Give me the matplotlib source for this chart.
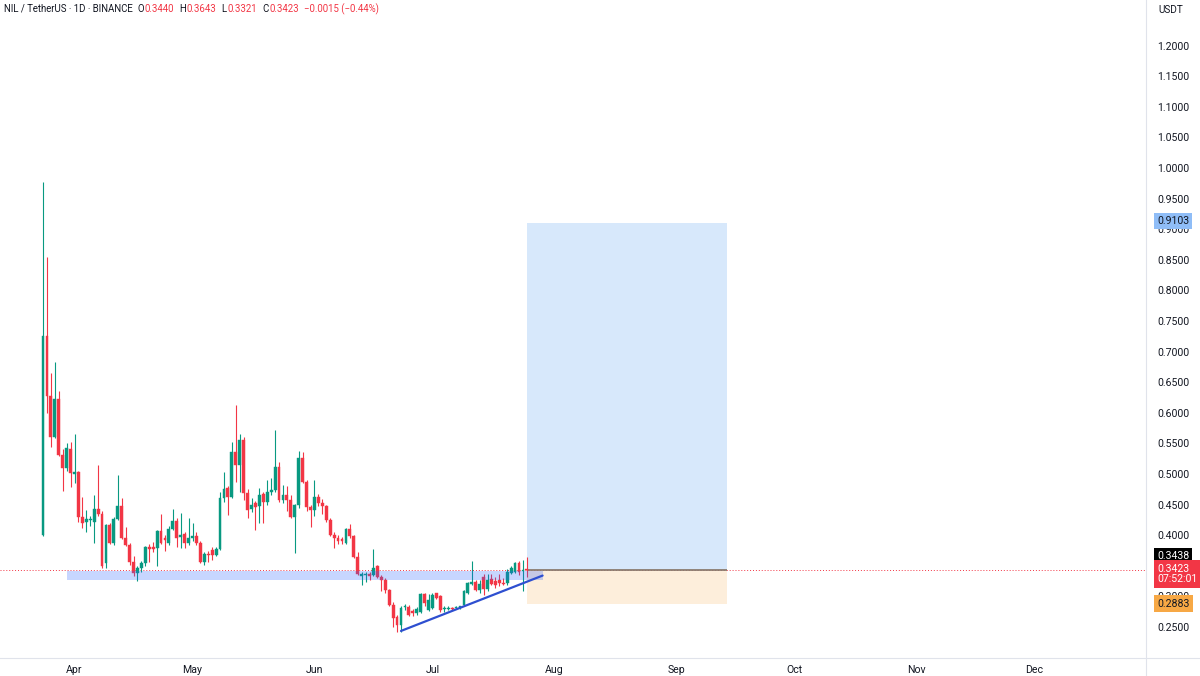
import matplotlib
matplotlib.use('Agg')
import matplotlib.pyplot as plt
import matplotlib.dates as mdates
import matplotlib.transforms as mtransforms
from matplotlib.lines import Line2D
from matplotlib.patches import Rectangle
from matplotlib.text import Annotation
import numpy as np
import pandas as pd

plt.rcParams['font.family'] = ['Roboto', 'DejaVu Sans']

# NIL / USDT daily candles, first bar on 2025-03-24
start_date = '2025-03-24'
opens = [0.400, 0.7255, 0.627, 0.561, 0.623, 0.531, 0.510, 0.541, 0.500, 0.503,
         0.429, 0.421, 0.424, 0.422, 0.442, 0.435, 0.355, 0.417, 0.387, 0.426,
         0.448, 0.395, 0.384, 0.356, 0.338, 0.346, 0.355, 0.381, 0.380, 0.379,
         0.407, 0.395, 0.388, 0.410, 0.423, 0.397, 0.402, 0.387, 0.395, 0.398,
         0.387, 0.356, 0.369, 0.375, 0.368, 0.377, 0.461, 0.477, 0.463, 0.536,
         0.515, 0.556, 0.469, 0.443, 0.452, 0.447, 0.467, 0.455, 0.471, 0.474,
         0.512, 0.457, 0.466, 0.458, 0.430, 0.449, 0.526, 0.487, 0.446, 0.441,
         0.463, 0.452, 0.447, 0.425, 0.400, 0.395, 0.393, 0.387, 0.410, 0.398,
         0.365, 0.334, 0.335, 0.337, 0.335, 0.350, 0.332, 0.327, 0.310, 0.286,
         0.267, 0.253, 0.283, 0.283, 0.276, 0.273, 0.275, 0.304, 0.278, 0.281,
         0.305, 0.301, 0.279, 0.279, 0.280, 0.281, 0.282, 0.286, 0.306, 0.321,
         0.324, 0.310, 0.332, 0.312, 0.328, 0.325, 0.327, 0.322, 0.322, 0.339,
         0.340, 0.354, 0.342, 0.3440]
highs = [0.977, 0.855, 0.665, 0.683, 0.636, 0.540, 0.551, 0.553, 0.565, 0.505,
         0.463, 0.441, 0.432, 0.466, 0.515, 0.440, 0.418, 0.420, 0.430, 0.498,
         0.461, 0.414, 0.388, 0.366, 0.350, 0.358, 0.383, 0.385, 0.389, 0.408,
         0.435, 0.400, 0.415, 0.443, 0.428, 0.436, 0.405, 0.428, 0.420, 0.405,
         0.391, 0.372, 0.374, 0.380, 0.380, 0.471, 0.504, 0.480, 0.553, 0.613,
         0.566, 0.560, 0.475, 0.460, 0.456, 0.477, 0.470, 0.490, 0.493, 0.572,
         0.520, 0.482, 0.480, 0.466, 0.451, 0.537, 0.536, 0.490, 0.450, 0.490,
         0.468, 0.459, 0.450, 0.428, 0.405, 0.400, 0.397, 0.412, 0.418, 0.400,
         0.372, 0.340, 0.340, 0.340, 0.377, 0.352, 0.335, 0.330, 0.312, 0.290,
         0.270, 0.285, 0.287, 0.286, 0.280, 0.282, 0.305, 0.306, 0.304, 0.306,
         0.306, 0.303, 0.284, 0.285, 0.283, 0.284, 0.285, 0.310, 0.324, 0.358,
         0.326, 0.327, 0.336, 0.336, 0.337, 0.331, 0.337, 0.330, 0.344, 0.350,
         0.356, 0.358, 0.359, 0.3643]
lows = [0.398, 0.600, 0.544, 0.558, 0.530, 0.473, 0.505, 0.479, 0.485, 0.422,
        0.412, 0.406, 0.415, 0.387, 0.432, 0.346, 0.347, 0.385, 0.384, 0.424,
        0.393, 0.382, 0.352, 0.334, 0.325, 0.340, 0.350, 0.356, 0.372, 0.349,
        0.386, 0.374, 0.384, 0.408, 0.381, 0.379, 0.379, 0.384, 0.390, 0.384,
        0.354, 0.352, 0.356, 0.360, 0.366, 0.375, 0.455, 0.433, 0.460, 0.487,
        0.471, 0.457, 0.428, 0.438, 0.408, 0.420, 0.420, 0.450, 0.465, 0.470,
        0.455, 0.452, 0.440, 0.428, 0.371, 0.445, 0.485, 0.440, 0.414, 0.432,
        0.447, 0.435, 0.422, 0.398, 0.379, 0.385, 0.386, 0.385, 0.395, 0.363,
        0.335, 0.319, 0.324, 0.327, 0.333, 0.330, 0.308, 0.305, 0.285, 0.250,
        0.242, 0.242, 0.278, 0.268, 0.268, 0.270, 0.273, 0.285, 0.276, 0.279,
        0.296, 0.275, 0.275, 0.277, 0.277, 0.279, 0.280, 0.284, 0.304, 0.318,
        0.308, 0.306, 0.302, 0.308, 0.318, 0.314, 0.317, 0.318, 0.318, 0.336,
        0.338, 0.335, 0.308, 0.3321]
closes = [0.7255, 0.627, 0.561, 0.623, 0.531, 0.510, 0.542, 0.502, 0.503, 0.429,
          0.420, 0.426, 0.427, 0.442, 0.435, 0.349, 0.417, 0.387, 0.426, 0.448,
          0.395, 0.384, 0.356, 0.338, 0.346, 0.355, 0.381, 0.378, 0.377, 0.407,
          0.388, 0.392, 0.410, 0.423, 0.395, 0.400, 0.387, 0.396, 0.398, 0.387,
          0.356, 0.369, 0.367, 0.368, 0.377, 0.461, 0.475, 0.462, 0.536, 0.515,
          0.556, 0.469, 0.441, 0.450, 0.446, 0.466, 0.455, 0.471, 0.474, 0.512,
          0.457, 0.466, 0.458, 0.430, 0.449, 0.526, 0.487, 0.446, 0.441, 0.463,
          0.452, 0.448, 0.425, 0.400, 0.395, 0.391, 0.390, 0.410, 0.398, 0.365,
          0.336, 0.337, 0.337, 0.333, 0.346, 0.332, 0.327, 0.310, 0.286, 0.264,
          0.253, 0.281, 0.285, 0.270, 0.273, 0.279, 0.304, 0.289, 0.294, 0.302,
          0.297, 0.277, 0.281, 0.281, 0.279, 0.282, 0.283, 0.308, 0.322, 0.323,
          0.310, 0.320, 0.312, 0.326, 0.321, 0.319, 0.322, 0.320, 0.340, 0.346,
          0.354, 0.340, 0.3438, 0.3423]

# drawings
zone_dates = ['2025-03-30', '2025-07-29']
zone_prices = [0.327, 0.341]
trend_dates = ['2025-06-23', '2025-07-29']
trend_prices = [0.2435, 0.334]
position_dates = ['2025-07-25', '2025-09-14']
entry_price = 0.3438
target_price = 0.9103
stop_price = 0.2883
countdown = '07:52:01'
# 0.35 sits fully under the price badges, so it is not listed
price_ticks = [0.25, 0.30, 0.40, 0.45, 0.50, 0.55, 0.60, 0.65, 0.70, 0.75, 0.80,
               0.85, 0.90, 0.95, 1.00, 1.05, 1.10, 1.15, 1.20]

UP = '#089981'
DOWN = '#f23645'
TEXT = '#131722'
GRID = '#e0e3eb'
FS = 7.6
HFS = 6.9

W, H = 1200, 676
fig = plt.figure(figsize=(12, 6.76), dpi=100)
ax = fig.add_axes([0, 18 / H, 1146 / W, 658 / H])

dates = mdates.date2num(pd.date_range(start_date, periods=len(opens), freq='D'))
o, h, l, c = map(np.array, (opens, highs, lows, closes))
cols = np.where(c >= o, UP, DOWN)

ax.vlines(dates, l, h, colors=cols, linewidth=0.8, zorder=3)
ax.bar(dates, np.maximum(np.abs(c - o), 0.0016), bottom=np.minimum(o, c),
       width=0.72, color=cols, edgecolor=cols, linewidth=0.3, zorder=3)

# long position tool
px0, px1 = mdates.date2num(pd.to_datetime(position_dates))
ax.add_patch(Rectangle((px0, entry_price), px1 - px0, target_price - entry_price,
                       facecolor='#d7e8fb', edgecolor='none', zorder=1))
ax.add_patch(Rectangle((px0, stop_price), px1 - px0, entry_price - stop_price,
                       facecolor='#fdeedb', edgecolor='none', zorder=1))
ax.hlines(entry_price, px0, px1, color='#8a7c70', linewidth=1.3, zorder=2)

# support zone and rising trendline
zx0, zx1 = mdates.date2num(pd.to_datetime(zone_dates))
ax.add_patch(Rectangle((zx0, zone_prices[0]), zx1 - zx0, zone_prices[1] - zone_prices[0],
                       facecolor='#2962ff', alpha=0.26, edgecolor='none', zorder=4))
ax.plot(mdates.date2num(pd.to_datetime(trend_dates)), trend_prices,
        color='#2e4fd0', linewidth=1.6, solid_capstyle='round', zorder=5)

# last price line
ax.axhline(closes[-1], color=DOWN, linewidth=0.7, linestyle=(0, (1, 2)), zorder=1.5)

ax.set_xlim(dates[0] - 10.94, dates[0] + 280.4)
ax.set_ylim(0.1993, 1.2745)

for s in ax.spines.values():
    s.set_visible(False)
ax.xaxis.set_major_locator(mdates.MonthLocator())
ax.xaxis.set_major_formatter(mdates.DateFormatter('%b'))
ax.yaxis.tick_right()
ax.set_yticks(price_ticks)
ax.set_yticklabels([f'{v:.4f}' for v in price_ticks])
ax.tick_params(axis='y', length=0, pad=8, labelsize=FS, labelcolor=TEXT)
ax.tick_params(axis='x', length=0, pad=5, labelsize=FS, labelcolor=TEXT)

# separators of the price / time scales
fig.add_artist(Line2D([0, 1], [18 / H, 18 / H], color=GRID, linewidth=0.8))
fig.add_artist(Line2D([1146 / W, 1146 / W], [0, 1], color=GRID, linewidth=0.8))

# price scale badges
lab = mtransforms.blended_transform_factory(fig.transFigure, ax.transData)
lx = 1157 / W
def badge(y, s, fc, tc, dy=0, va='center'):
    ax.annotate(s, xy=(lx, y), xycoords=lab, xytext=(0, dy), textcoords='offset points',
                ha='left', va=va, fontsize=FS, color=tc, linespacing=1.1,
                bbox=dict(boxstyle='square,pad=0.3', fc=fc, ec='none'),
                annotation_clip=False, zorder=10)

badge(target_price, f'{target_price:.4f}', '#8fbdf7', TEXT, dy=1.5)
badge(entry_price, f'{entry_price:.4f}', '#000000', 'white', dy=9.5)
badge(closes[-1], f'{closes[-1]:.4f}\n{countdown}', DOWN, 'white', dy=5.0, va='top')
badge(stop_price, f'{stop_price:.4f}', '#f7a845', TEXT)

fig.text(1158 / W, 1 - 10 / H, 'USDT', fontsize=7.2, color=TEXT, va='center', ha='left')

# header legend, each piece placed right after the previous one
chg = closes[-1] - closes[-2]
pct = chg / closes[-2] * 100
header = [('O', 3.6, TEXT), (f'{opens[-1]:.4f}', 0.5, DOWN),
          ('H', 3.6, TEXT), (f'{highs[-1]:.4f}', 0.5, DOWN),
          ('L', 3.6, TEXT), (f'{lows[-1]:.4f}', 0.5, DOWN),
          ('C', 3.6, TEXT), (f'{closes[-1]:.4f}', 0.5, DOWN),
          (f'{chg:.4f} ({pct:.2f}%)'.replace('-', '\u2212'), 3.6, DOWN)]
anchor = fig.text(4 / W, 1 - 9 / H, 'NIL / TetherUS · 1D · BINANCE', fontsize=HFS,
                  color=TEXT, va='center', ha='left')
for s, gap, col in header:
    anchor = fig.add_artist(Annotation(
        s, xy=(1, 0.5), xycoords=anchor, xytext=(gap, 0), textcoords='offset points',
        va='center', ha='left', fontsize=HFS, color=col))

fig.savefig('out.png', dpi=100, facecolor='white')
